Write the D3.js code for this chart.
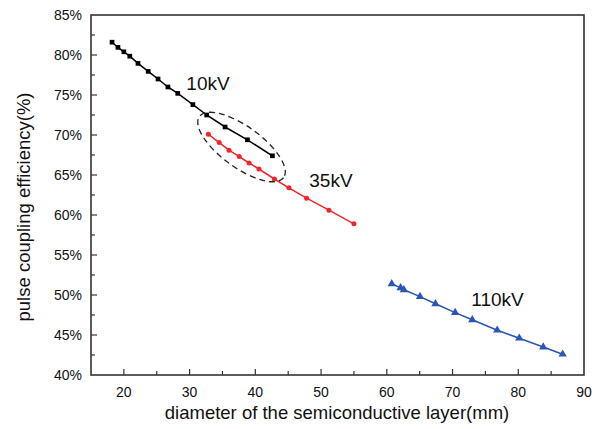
<!DOCTYPE html>
<html><head><meta charset="utf-8">
<script src="https://cdn.jsdelivr.net/npm/d3@7"></script>
<style>body{margin:0;background:#fff;} text{font-family:Arial,"Liberation Sans",sans-serif;}</style>
</head><body><svg id="c" width="596" height="429"></svg>
<script>
const xTicks = [20,30,40,50,60,70,80,90];
const yTicks = [40,45,50,55,60,65,70,75,80,85];
const d10x = [18.2,19.1,20.0,20.9,22.15,23.7,25.2,26.7,28.2,30.5,32.6,35.4,38.8,42.6];
const d10y = [81.6,80.95,80.4,79.85,78.95,77.95,77.0,76.0,75.2,73.8,72.5,71.0,69.4,67.4];
const d35x = [32.85,34.5,36.0,37.55,39.05,40.55,42.9,45.1,47.8,51.2,55.0];
const d35y = [70.1,69.05,68.1,67.3,66.5,65.75,64.5,63.4,62.1,60.6,58.9];
const d110x = [60.75,62.1,62.6,65.05,67.4,70.4,73.0,76.8,80.15,83.8,86.75];
const d110y = [51.4,50.9,50.65,49.8,48.9,47.8,46.9,45.6,44.6,43.5,42.6];
const labels = [{t:"10kV",x:32.8,y:75.6},{t:"35kV",x:51.5,y:63.45},{t:"110kV",x:76.85,y:48.6}];

const svg = d3.select("#c");
const L=91,R=584,T=15,B=375;
const x = d3.scaleLinear().domain([15,90]).range([L,R]);
const y = d3.scaleLinear().domain([40,85]).range([B,T]);

const g = svg.append("g");
d3.range(20,90,5).forEach(v=>{
  const major = v%10===0;
  g.append("line").attr("x1",x(v)).attr("x2",x(v)).attr("y1",B).attr("y2",B-(major?6:4)).attr("stroke","#333").attr("stroke-width",1.2);
});
d3.range(42.5,85,2.5).forEach(v=>{
  const major = v%5===0;
  g.append("line").attr("x1",L).attr("x2",L+(major?6:4)).attr("y1",y(v)).attr("y2",y(v)).attr("stroke","#333").attr("stroke-width",1.2);
});
svg.append("rect").attr("x",L).attr("y",T).attr("width",R-L).attr("height",B-T).attr("fill","none").attr("stroke","#333").attr("stroke-width",1.6);

xTicks.forEach(v=>{
  svg.append("text").attr("x",x(v)).attr("y",B+22).attr("text-anchor","middle").attr("font-size",14).attr("fill","#111").text(v);
});
yTicks.forEach(v=>{
  svg.append("text").attr("x",L-9).attr("y",y(v)+5).attr("text-anchor","end").attr("font-size",14).attr("fill","#111").text(v+"%");
});
svg.append("text").attr("x",337).attr("y",419).attr("text-anchor","middle").attr("font-size",18.5).attr("fill","#111").text("diameter of the semiconductive layer(mm)");
svg.append("text").attr("transform",`translate(30,${(T+B)/2+12}) rotate(-90)`).attr("text-anchor","middle").attr("font-size",18.5).attr("fill","#111").text("pulse coupling efficiency(%)");

function series(xs,ys,color,shape){
  const pts = xs.map((v,i)=>[x(v),y(ys[i])]);
  svg.append("path").attr("d",d3.line()(pts)).attr("fill","none").attr("stroke",color).attr("stroke-width",1.5);
  const sym = d3.symbol().type(shape==="sq"?d3.symbolSquare:shape==="c"?d3.symbolCircle:d3.symbolTriangle).size(shape==="sq"?22:shape==="c"?20:30);
  svg.selectAll(null).data(pts).enter().append("path").attr("d",sym).attr("transform",d=>`translate(${d[0]},${d[1]})`).attr("fill",color);
}
series(d10x,d10y,"#000","sq");
series(d35x,d35y,"#f0262a","c");
series(d110x,d110y,"#2b56b4","t");

labels.forEach(l=>{
  svg.append("text").attr("x",x(l.x)).attr("y",y(l.y)).attr("text-anchor","middle").attr("font-size",19).attr("fill","#111").text(l.t);
});

const ec = {x:37.9,y:68.5};
svg.append("ellipse").attr("cx",0).attr("cy",0).attr("rx",52).attr("ry",20.5)
  .attr("transform",`translate(${x(ec.x)},${y(ec.y)}) rotate(36)`)
  .attr("fill","none").attr("stroke","#222").attr("stroke-width",1.3).attr("stroke-dasharray","6,4");
</script></body></html>
